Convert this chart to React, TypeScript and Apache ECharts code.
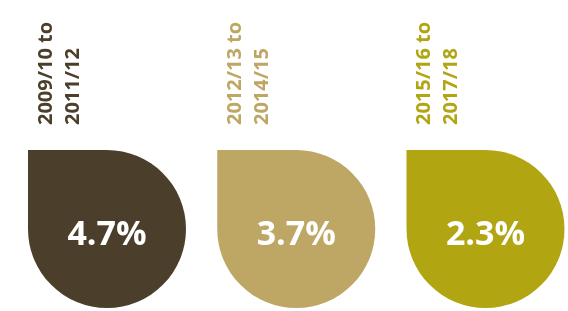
import React, { useEffect, useRef } from "react";
import * as echarts from "echarts";

const periods = ["2009/10 to\n2011/12", "2012/13 to\n2014/15", "2015/16 to\n2017/18"];
const growth = [4.7, 3.7, 2.3];
const colors = ["#4b3f2c", "#bea765", "#b1a512"];

export default function App() {
  const ref = useRef<HTMLDivElement>(null);
  useEffect(() => {
    if (!ref.current) return;
    const chart = echarts.init(ref.current, null, { renderer: "svg" });
    const option: any = {
      animation: false,
      grid: { left: 0, right: 0, top: 150, height: 158 },
      xAxis: { type: "value", min: -0.5654, max: 2.4359, show: false },
      yAxis: { type: "value", min: 0, max: 1, show: false },
      series: [
        {
          type: "custom",
          data: growth.map((v, i) => [i, v]),
          renderItem: (params: any, api: any) => {
            const i = api.value(0);
            const v = api.value(1);
            const top = api.coord([i, 1]);
            const bot = api.coord([i, 0]);
            const cx = top[0];
            const h = bot[1] - top[1];
            const w = h;
            const left = cx - w / 2;
            const r = w / 2;
            const color = colors[i];
            return {
              type: "group",
              children: [
                {
                  type: "rect",
                  shape: { x: left, y: top[1], width: w, height: h, r: [0, r, r, r] },
                  style: { fill: color },
                },
                {
                  type: "text",
                  x: cx,
                  y: top[1] + h / 2 + 3,
                  style: {
                    text: v.toFixed(1) + "%",
                    fill: "#ffffff",
                    fontSize: 34,
                    fontWeight: "bold",
                    fontFamily: "Open Sans",
                    align: "center",
                    verticalAlign: "middle",
                  },
                },
                {
                  type: "text",
                  x: left + 29.5,
                  y: top[1] - 25,
                  rotation: Math.PI / 2,
                  style: {
                    text: periods[i],
                    fill: color,
                    fontSize: 20,
                    fontWeight: "bold",
                    fontFamily: "Open Sans",
                    lineHeight: 27,
                    align: "left",
                    verticalAlign: "middle",
                  },
                },
              ],
            };
          },
        },
      ],
    };
    chart.setOption(option);
    return () => chart.dispose();
  }, []);
  return (
    <div
      ref={ref}
      style={{ position: "fixed", left: 0, top: 0, width: 568, height: 311 }}
    />
  );
}
